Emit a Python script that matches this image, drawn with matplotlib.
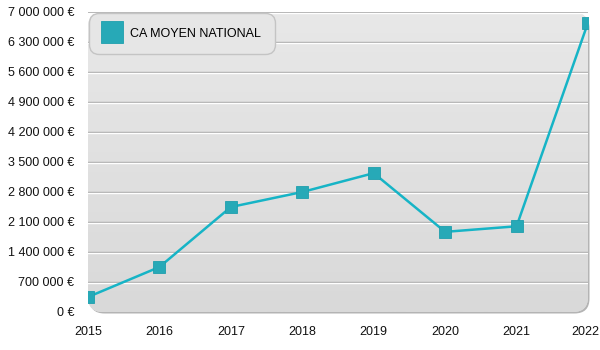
import matplotlib
matplotlib.use("Agg")
import matplotlib.pyplot as plt
import numpy as np
from matplotlib.patches import FancyBboxPatch
from matplotlib.ticker import FuncFormatter
import matplotlib.transforms as mtransforms

years = [2015, 2016, 2017, 2018, 2019, 2020, 2021, 2022]
ca_moyen = [350000, 1050000, 2450000, 2800000, 3240000, 1870000, 2000000, 6750000]
yticks = [0, 700000, 1400000, 2100000, 2800000, 3500000, 4200000, 4900000, 5600000, 6300000, 7000000]

plt.rcParams['font.family'] = ['Liberation Sans', 'DejaVu Sans']

fig = plt.figure(figsize=(6, 3.5), dpi=100)
ax = fig.add_axes([88/600, 1-312/350, 500/600, 300/350])
ax.set_xlim(years[0], years[-1])
ax.set_ylim(0, 7000000)
for s in ax.spines.values():
    s.set_visible(False)
ax.patch.set_visible(False)

# panel with rounded corners + soft shadow
shadow = FancyBboxPatch((0.003, -0.005), 1.0, 1.0, boxstyle="round,pad=0,rounding_size=0.03",
                        transform=ax.transAxes, facecolor='#b4b4b4', edgecolor='none',
                        mutation_aspect=500/300, zorder=0, clip_on=False)
ax.add_patch(shadow)
panel = FancyBboxPatch((0, 0), 1.0, 1.0, boxstyle="round,pad=0,rounding_size=0.03",
                       transform=ax.transAxes, facecolor='#e2e2e2', edgecolor='none',
                       mutation_aspect=500/300, zorder=0.5, clip_on=False)
ax.add_patch(panel)
grad = np.linspace(0, 1, 256).reshape(-1, 1)
cmap = matplotlib.colors.LinearSegmentedColormap.from_list('g', ['#e8e8e8', '#d9d9d9'])
img = ax.imshow(grad, cmap=cmap, extent=[0, 1, 0, 1], transform=ax.transAxes,
                aspect='auto', zorder=0.6)
img.set_clip_path(panel)

# embossed grid lines
white_off = mtransforms.offset_copy(ax.transData, fig=fig, x=0, y=-1, units='dots')
for v in yticks[1:]:
    ax.axhline(v, color='#a9a9a9', lw=1.0, zorder=1)
    ax.plot([years[0], years[-1]], [v, v], color='white', lw=1.0, transform=white_off, zorder=1)

ax.plot(years, ca_moyen, color='#16b4c6', lw=1.8, zorder=3,
        marker='s', markersize=8.5, markerfacecolor='#27a9b7', markeredgecolor='#1e9fad',
        markeredgewidth=0.6, label='CA MOYEN NATIONAL')

ax.set_yticks(yticks)
ax.yaxis.set_major_formatter(FuncFormatter(lambda v, p: f"{int(v):,}".replace(',', ' ') + ' €'))
ax.set_xticks(years)
ax.tick_params(length=0, labelsize=9, colors='#111111')
ax.tick_params(axis='y', pad=10)
ax.tick_params(axis='x', pad=10)
last = ax.get_xticklabels()[-1]
last.set_transform(last.get_transform() + mtransforms.ScaledTranslation(-3/100, 0, fig.dpi_scale_trans))

leg = ax.legend(loc='upper left', bbox_to_anchor=(0.0, 1.0), fontsize=9, frameon=True,
                fancybox=True, borderpad=1.15, handlelength=1.3, handletextpad=0.8,
                markerscale=1.9, borderaxespad=0.1)
for h in leg.legend_handles:
    h.set_linestyle('none')
fr = leg.get_frame()
fr.set_facecolor('#e6e6e6')
fr.set_edgecolor('#c4c4c4')
fr.set_alpha(1)
fr.set_boxstyle('round,pad=0,rounding_size=0.8')

fig.savefig('out.png', dpi=100, facecolor='white')
